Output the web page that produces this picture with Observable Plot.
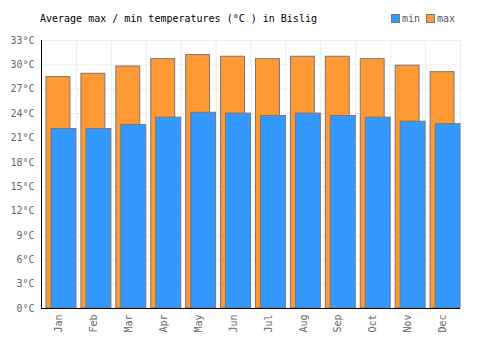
<!DOCTYPE html>
<html><head><meta charset="utf-8">
<script src="https://cdn.jsdelivr.net/npm/d3@7"></script>
<script src="https://cdn.jsdelivr.net/npm/@observablehq/plot@0.6"></script>
<style>
body{margin:0;background:#fff;font-family:"DejaVu Sans Mono",monospace;}
#wrap{position:relative;width:500px;height:350px;}
#title{position:absolute;left:40px;top:13px;font-size:10px;color:#000;white-space:pre;}
#legend{position:absolute;left:391px;top:13px;font-size:10px;color:#555;display:flex;gap:6px;}
.sw{display:inline-block;width:7px;height:7px;border:1px solid #777;margin-right:2px;vertical-align:-1px;}
</style></head>
<body><div id="wrap"><div id="title">Average max / min temperatures (°C ) in Bislig</div>
<div id="legend"><span><span class="sw" style="background:#3399ff"></span>min</span><span><span class="sw" style="background:#ff9933"></span>max</span></div>
<div id="chart"></div></div>
<script>
const months = ["Jan","Feb","Mar","Apr","May","Jun","Jul","Aug","Sep","Oct","Nov","Dec"];
const maxTemps = [28.5,28.9,29.8,30.7,31.2,31.0,30.7,31.0,31.0,30.7,29.9,29.1];
const minTemps = [22.1,22.1,22.6,23.5,24.1,24.0,23.7,24.0,23.7,23.5,23.0,22.7];
const yTicks = d3.range(0, 34, 3);

const idx = months.map((m, i) => i);
const chart = Plot.plot({
  width: 500, height: 350,
  marginLeft: 41, marginRight: 40, marginTop: 40, marginBottom: 42,
  style: {fontFamily: "DejaVu Sans Mono, monospace", fontSize: "10px", background: "#fff"},
  x: {domain: [0, 12], axis: null},
  y: {domain: [0, 33], axis: null},
  marks: [
    Plot.ruleY(yTicks, {stroke: "#eeeeee", strokeWidth: 1}),
    Plot.ruleX(d3.range(0, 13), {stroke: "#eeeeee", strokeWidth: 1}),
    Plot.rectY(idx, {x1: i => i, x2: i => i + 1, y1: 0, y2: i => maxTemps[i], fill: "#ff9933", stroke: "#777", strokeWidth: 1, insetLeft: 5, insetRight: 6}),
    Plot.rectY(idx, {x1: i => i, x2: i => i + 1, y1: 0, y2: i => minTemps[i], fill: "#3399ff", stroke: "#777", strokeWidth: 1, insetLeft: 10, insetRight: 0}),
    Plot.ruleX([0], {stroke: "#000", strokeWidth: 1}),
    Plot.ruleY([0], {stroke: "#000", strokeWidth: 1}),
    Plot.axisY(yTicks, {tickSize: 0, tickPadding: 7, tickFormat: d => d + "°C", fill: "#666", fontSize: 10}),
    Plot.text(idx, {x: i => i + 0.5, y: 0, text: i => months[i], rotate: -90, textAnchor: "end", dy: 6, fill: "#666", fontSize: 10})
  ]
});
document.getElementById("chart").appendChild(chart);
</script></body></html>
